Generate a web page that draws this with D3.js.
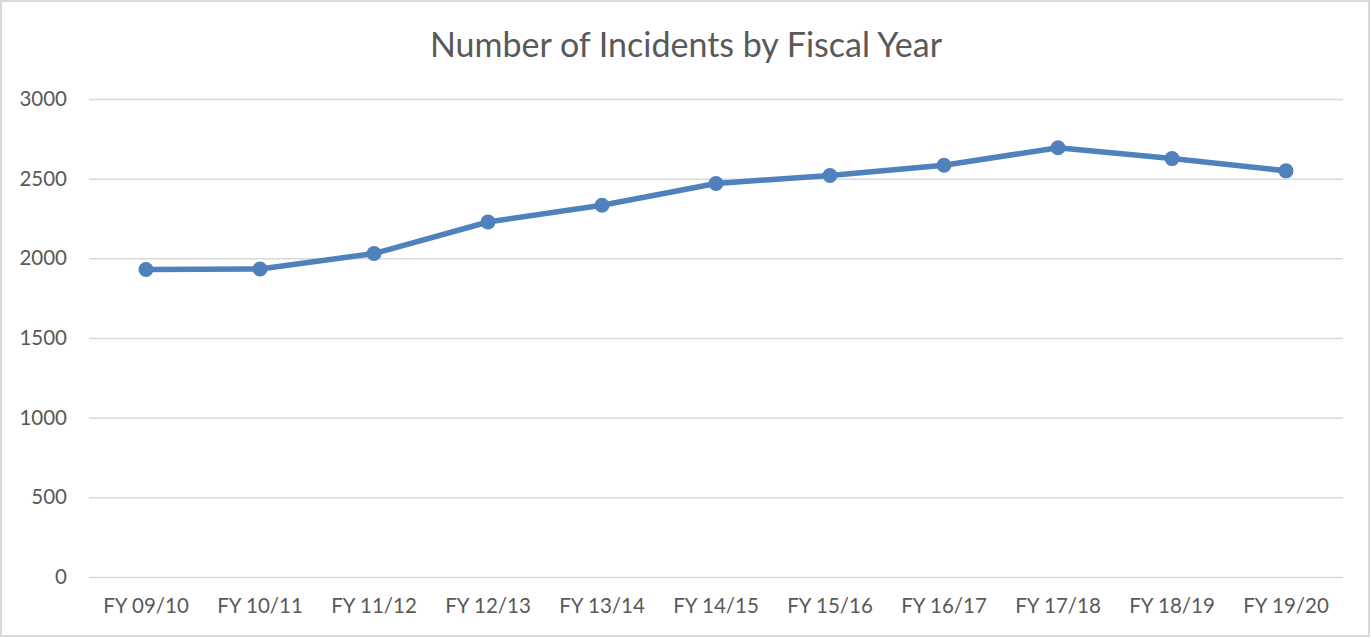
<!DOCTYPE html>
<html><head><meta charset="utf-8">
<script src="https://cdn.jsdelivr.net/npm/d3@7"></script>
<style>html,body{margin:0;padding:0;background:#fff;}svg{display:block;}</style>
</head><body>
<svg id="c" width="1371" height="638"></svg>
<script>
const categories = ["FY 09/10","FY 10/11","FY 11/12","FY 12/13","FY 13/14","FY 14/15","FY 15/16","FY 16/17","FY 17/18","FY 18/19","FY 19/20"];
const incidents = [1930, 1933, 2030, 2228, 2333, 2470, 2520, 2584, 2694, 2626, 2549];
const yTicks = [0, 500, 1000, 1500, 2000, 2500, 3000];
const title = "Number of Incidents by Fiscal Year";

const W = 1371, H = 638;
const m = {left: 89, right: 28, top: 99, bottom: 61};
const svg = d3.select("#c");
const font = "Lato, 'Open Sans', sans-serif";
const txt = "#595959";

svg.append("rect").attr("x",1).attr("y",1).attr("width",W-3).attr("height",H-3)
  .attr("fill","#fff").attr("stroke","#d9d9d9").attr("stroke-width",2);

const x = d3.scaleBand().domain(categories).range([m.left, W - m.right]).padding(0);
const y = d3.scaleLinear().domain([0, 3000]).range([H - m.bottom, m.top]);

const yAxis = d3.axisLeft(y).tickValues(yTicks).tickFormat(d3.format("d"))
  .tickSize(-(W - m.right - m.left)).tickPadding(22);
const gy = svg.append("g").attr("transform", `translate(${m.left},0)`).call(yAxis);
gy.select(".domain").remove();
gy.selectAll(".tick line").attr("stroke","#d9d9d9").attr("stroke-width",1.5);
gy.selectAll(".tick text").attr("fill",txt).attr("font-family",font).attr("font-size",20.5);

const xAxis = d3.axisBottom(x).tickSize(0).tickPadding(21);
const gx = svg.append("g").attr("transform", `translate(0,${H - m.bottom})`).call(xAxis);
gx.select(".domain").remove();
gx.selectAll(".tick text").attr("fill",txt).attr("font-family",font).attr("font-size",20.5);

const cx = d => x(d) + x.bandwidth()/2;
const line = d3.line().x((d,i)=>cx(categories[i])).y(d=>y(d));
svg.append("path").datum(incidents).attr("d",line).attr("fill","none")
  .attr("stroke","#4f81bd").attr("stroke-width",5.5).attr("stroke-linejoin","round");
svg.selectAll("circle.pt").data(incidents).enter().append("circle")
  .attr("class","pt").attr("cx",(d,i)=>cx(categories[i])).attr("cy",d=>y(d)).attr("r",7.5)
  .attr("fill","#4f81bd");

svg.append("text").attr("x",686).attr("y",57).attr("text-anchor","middle")
  .attr("font-family",font).attr("font-size",34).attr("fill",txt).text(title);
</script>
</body></html>
